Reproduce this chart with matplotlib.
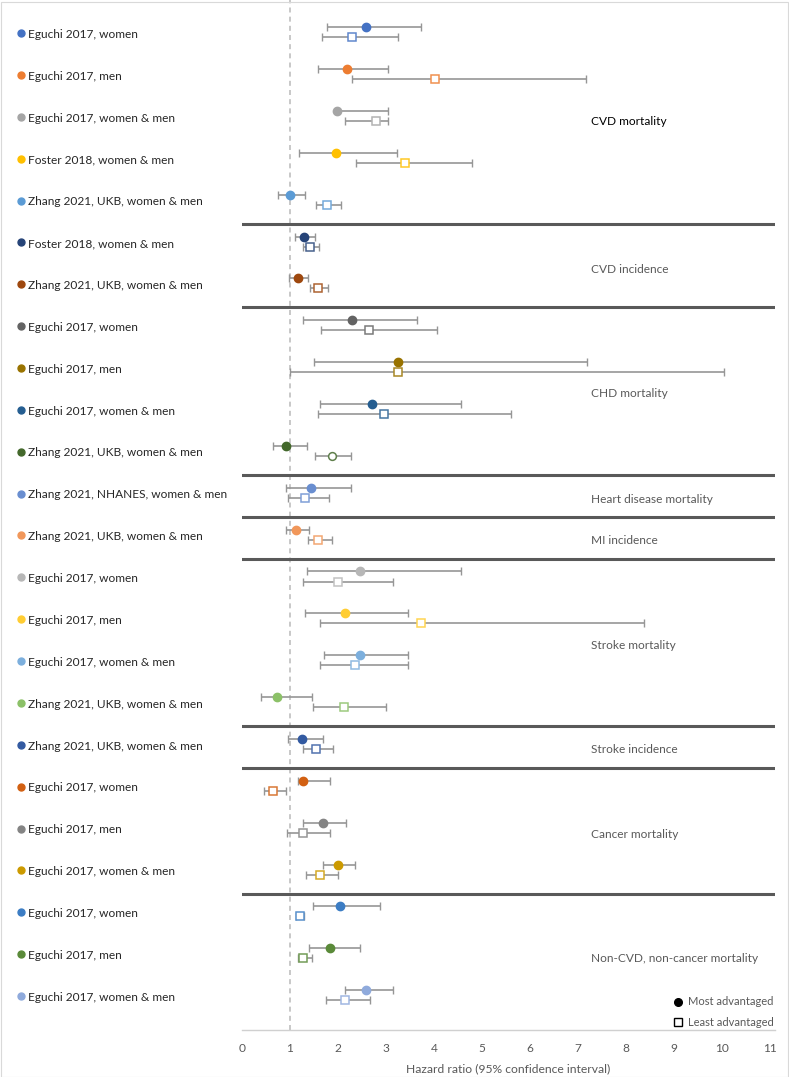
import matplotlib
matplotlib.use("Agg")
import matplotlib.pyplot as plt
from matplotlib.patches import Rectangle
import numpy as np

plt.rcParams['font.family'] = ['Lato', 'DejaVu Sans']

# ---------------- data ----------------
labels = [
    "Eguchi 2017, women", "Eguchi 2017, men", "Eguchi 2017, women & men",
    "Foster 2018, women & men", "Zhang 2021, UKB, women & men",
    "Foster 2018, women & men", "Zhang 2021, UKB, women & men",
    "Eguchi 2017, women", "Eguchi 2017, men", "Eguchi 2017, women & men",
    "Zhang 2021, UKB, women & men",
    "Zhang 2021, NHANES, women & men",
    "Zhang 2021, UKB, women & men",
    "Eguchi 2017, women", "Eguchi 2017, men", "Eguchi 2017, women & men",
    "Zhang 2021, UKB, women & men",
    "Zhang 2021, UKB, women & men",
    "Eguchi 2017, women", "Eguchi 2017, men", "Eguchi 2017, women & men",
    "Eguchi 2017, women", "Eguchi 2017, men", "Eguchi 2017, women & men",
]
colors = [
    "#4472C4", "#ED7D31", "#A5A5A5", "#FFC000", "#5B9BD5",
    "#264478", "#9E480E",
    "#636363", "#997300", "#255E91", "#43682B",
    "#698ED0",
    "#F1975A",
    "#B7B7B7", "#FFCD33", "#7CAFDD", "#8CC168",
    "#335AA1",
    "#D26012", "#848484", "#CC9A00",
    "#3C7DC4", "#5A8A39", "#8FAADC",
]
most_hr = [2.58, 2.19, 1.98, 1.95, 0.99, 1.29, 1.16, 2.29, 3.25, 2.71, 0.92, 1.43,
           1.12, 2.45, 2.15, 2.45, 0.73, 1.26, 1.28, 1.69, 2.01, 2.05, 1.83, 2.58]
most_lo = [1.77, 1.58, 1.95, 1.18, 0.76, 1.11, 0.98, 1.28, 1.49, 1.63, 0.64, 0.91,
           0.91, 1.36, 1.31, 1.70, 0.40, 0.95, 1.16, 1.28, 1.69, 1.47, 1.39, 2.15]
most_hi = [3.73, 3.05, 3.05, 3.22, 1.31, 1.53, 1.38, 3.65, 7.18, 4.57, 1.36, 2.28,
           1.40, 4.57, 3.46, 3.46, 1.45, 1.68, 1.83, 2.16, 2.36, 2.88, 2.45, 3.15]
least_hr = [2.29, 4.03, 2.80, 3.39, 1.78, 1.42, 1.59, 2.64, 3.25, 2.96, 1.87, 1.32,
            1.59, 2.01, 3.73, 2.35, 2.12, 1.55, 0.65, 1.28, 1.62, 1.20, 1.28, 2.15]
least_lo = [1.66, 2.29, 2.15, 2.38, 1.55, 1.27, 1.41, 1.65, 1.00, 1.58, 1.52, 0.96,
            1.37, 1.28, 1.63, 1.63, 1.48, 1.28, 0.45, 0.93, 1.34, 1.12, 1.16, 1.74]
least_hi = [3.25, 7.17, 3.05, 4.80, 2.06, 1.61, 1.80, 4.06, 10.05, 5.60, 2.27, 1.82,
            1.88, 3.15, 8.37, 3.46, 3.00, 1.89, 0.92, 1.83, 2.01, 1.30, 1.45, 2.66]
least_marker = ['s'] * 10 + ['o'] + ['s'] * 13

groups = ["CVD mortality", "CVD incidence", "CHD mortality", "Heart disease mortality",
          "MI incidence", "Stroke mortality", "Stroke incidence", "Cancer mortality",
          "Non-CVD, non-cancer mortality"]
group_last_row = [4, 6, 10, 11, 12, 16, 17, 20, 23]
group_label_y = [2.14, 5.66, 8.64, 11.15, 12.15, 14.65, 17.14, 19.15, 22.13]
xticks = list(range(0, 12))


def lighten(c, f=0.2):
    c = np.array(matplotlib.colors.to_rgb(c))
    return tuple(c + (1 - c) * f)


# ---------------- figure ----------------
W, H = 789, 1077
fig = plt.figure(figsize=(W / 100, H / 100), dpi=100)
ax_left, ax_right, ax_top, ax_bottom = 242, 775, 0, 1030
ax = fig.add_axes([ax_left / W, 1 - ax_bottom / H, (ax_right - ax_left) / W,
                   (ax_bottom - ax_top) / H])

row_px = 41.87
c0 = 32.2
ax.set_xlim(0, (ax_right - ax_left) / 48.0)
ax.set_ylim((ax_bottom - c0) / row_px, (ax_top - c0) / row_px)

off = 0.12
err_col = "#969696"
for i in range(len(labels)):
    y1 = i - off
    y2 = i + off
    ax.errorbar(most_hr[i], y1,
                xerr=[[most_hr[i] - most_lo[i]], [most_hi[i] - most_hr[i]]],
                fmt='none', ecolor=err_col, elinewidth=1.2, capsize=3.0,
                capthick=1.0, zorder=2)
    ax.errorbar(least_hr[i], y2,
                xerr=[[least_hr[i] - least_lo[i]], [least_hi[i] - least_hr[i]]],
                fmt='none', ecolor=err_col, elinewidth=1.2, capsize=3.0,
                capthick=1.0, zorder=2)
    ax.plot(most_hr[i], y1, 'o', ms=6.0, color=colors[i], mec=colors[i], zorder=3)
    ax.plot(least_hr[i], y2, least_marker[i], ms=5.6, mfc='white',
            mec=lighten(colors[i], 0.15), mew=1.1, zorder=3)

    # left labels with bullet
    ax.plot((21 - ax_left) / (ax_right - ax_left), i + 0.02, 'o', ms=5.0,
            color=colors[i], transform=ax.get_yaxis_transform(), clip_on=False)
    ax.text((28 - ax_left) / (ax_right - ax_left), i + 0.05, labels[i],
            transform=ax.get_yaxis_transform(), ha='left', va='center',
            fontsize=8.6, color='#262626')

# reference line
ax.axvline(1, color='#BFBFBF', lw=1.2, ls=(0, (3, 2.5)), zorder=1)

# group separators
for r in group_last_row[:-1]:
    ax.axhline(r + 0.575, color='#595959', lw=2.2, zorder=1)

# group labels
for g, gy in zip(groups, group_label_y):
    ax.text((591 - ax_left) / 48.0, gy, g, ha='left', va='center', fontsize=8.6,
            color='#000000' if g == "CVD mortality" else '#595959')

# legend
lx = (678 - ax_left) / 48.0
ax.plot(lx, (1001.7 - c0) / row_px, 'o', ms=5.5, color='black', clip_on=False)
ax.plot(lx, (1022.3 - c0) / row_px, 's', ms=5.5, mfc='white', mec='black',
        mew=1.0, clip_on=False)
ax.text((688 - ax_left) / 48.0, (1001.7 - c0) / row_px, "Most advantaged",
        ha='left', va='center', fontsize=8.0, color='#595959')
ax.text((688 - ax_left) / 48.0, (1022.3 - c0) / row_px, "Least advantaged",
        ha='left', va='center', fontsize=8.0, color='#595959')

# axes styling
for s in ['left', 'top', 'right']:
    ax.spines[s].set_visible(False)
ax.spines['bottom'].set_color('#D0D0D0')
ax.spines['bottom'].set_linewidth(1.0)
ax.set_yticks([])
ax.set_xticks(xticks)
ax.set_xticklabels([str(t) for t in xticks])
ax.tick_params(axis='x', length=0, pad=9, labelsize=8.6, labelcolor='#595959')
ax.set_xlabel("Hazard ratio (95% confidence interval)", fontsize=8.7,
              color='#595959', labelpad=7)

# figure frame
fig.patches.append(Rectangle((0.5 / W, 0.5 / H), 1 - 2 / W, 1 - 2 / H,
                             transform=fig.transFigure, fill=False,
                             edgecolor='#D9D9D9', lw=0.8))

fig.savefig("out.png", dpi=100)
